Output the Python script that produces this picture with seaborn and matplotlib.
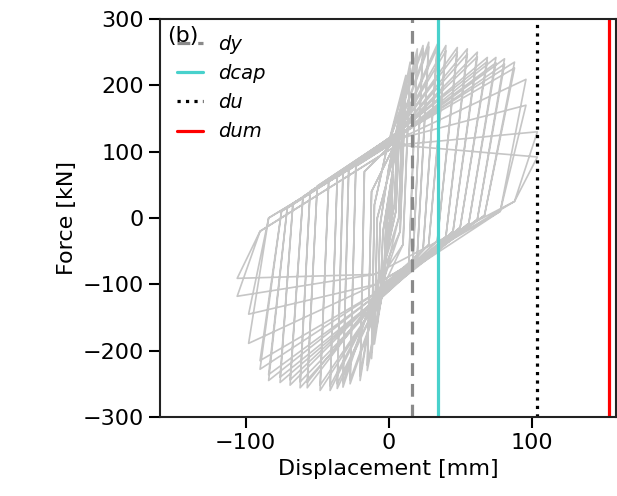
import matplotlib
matplotlib.use("Agg")
import matplotlib.pyplot as plt
import seaborn as sns
import pandas as pd

# characteristic displacements (mm)
limit_names = ["dy", "dcap", "du", "dum"]
limit_values = [16, 34.6, 104, 154]

# hysteresis corner points, one entry per amplitude level (mm, kN)
# each level is run twice: first and second peak forces are listed separately
reload_d = [1, 2, 4, 5, 7, 8, 10, 14, 17, 20, 24, 28, 34, 40, 45, 50, 56, 62, 67, 78, 88]
reload_f = [5, 10, 20, 10, 0, -20, -40, -70, -62, -55, -48, -40, -34, -28, -20, -14, -8, -2, 4, 10, 25]
pos_peak_d = [1.5, 3, 6, 8, 10, 12, 15, 20, 24, 28, 34, 40, 48, 55, 62, 69, 75, 81, 88, 96, 104]
pos_peak_f1 = [40, 70, 130, 160, 190, 215, 235, 255, 260, 265, 262, 260, 257, 255, 250, 242, 242, 240, 235, 209, 130]
pos_peak_f2 = [37, 65, 122, 152, 180, 205, 225, 248, 255, 258, 256, 252, 250, 247, 243, 236, 234, 232, 226, 170, 92]
upper_pinch_d = [0, 1, 2, 0, 3, -2, 3, 4, -1, 5, 6, 2, 5, 7, 3, 6, 8, 4, 7, 8, 6]
upper_pinch_f = [15, 30, 60, 75, 90, 98, 105, 115, 108, 125, 128, 115, 128, 130, 120, 128, 126, 118, 125, 120, 110]
turn_d = [-1, -2, -4, -6, -8, -10, -12, -17, -23, -28, -32, -36, -42, -50, -55, -60, -67, -71, -75, -84, -90]
turn_f = [-5, -10, -20, -10, 0, 20, 40, 70, 78, 72, 68, 62, 55, 48, 40, 32, 22, 15, 10, 0, -20]
neg_peak_d = [-1.5, -3, -6, -8, -10, -12, -15, -20, -27, -32, -36, -41, -48, -57, -62, -69, -76, -84, -90, -98, -106]
neg_peak_f1 = [-40, -70, -130, -160, -190, -212, -230, -245, -250, -255, -257, -260, -260, -256, -256, -252, -248, -245, -228, -189, -118]
neg_peak_f2 = [-37, -65, -122, -150, -180, -202, -222, -238, -244, -248, -250, -253, -252, -248, -247, -244, -240, -236, -215, -145, -91]
lower_pinch_d = [0, -1, -2, -4, -3, -8, -3, -10, -4, -12, -5, -9, -6, -11, -6, -10, -7, -12, -8, -9, -10]
lower_pinch_f = [-15, -30, -60, -75, -90, -98, -100, -112, -108, -125, -115, -122, -120, -126, -122, -124, -120, -122, -112, -100, -85]

disp, force = [0], [0]
for i in range(len(pos_peak_d)):
    for fp, fn in [(pos_peak_f1[i], neg_peak_f1[i]), (pos_peak_f2[i], neg_peak_f2[i])]:
        disp += [reload_d[i], pos_peak_d[i], upper_pinch_d[i], turn_d[i], neg_peak_d[i], lower_pinch_d[i]]
        force += [reload_f[i], fp, upper_pinch_f[i], turn_f[i], fn, lower_pinch_f[i]]
df = pd.DataFrame({"disp": disp, "force": force})

sns.set_style("ticks")
plt.rcParams["font.family"] = ["DejaVu Sans"]
plt.rcParams["text.color"] = "black"
plt.rcParams["axes.labelcolor"] = "black"
plt.rcParams["xtick.color"] = "black"
plt.rcParams["ytick.color"] = "black"

fig, ax = plt.subplots(figsize=(6.17, 4.96), dpi=100)
fig.subplots_adjust(left=0.2593, right=0.9984, bottom=0.1593, top=0.9617)

sns.lineplot(data=df, x="disp", y="force", sort=False, estimator=None,
             color="#c6c6c6", lw=1.2, ax=ax)

styles = [("#8a8a8a", (0, (4, 2.5))), ("#48d1cc", "-"), ("black", ":"), ("red", "-")]
for name, val, (c, ls) in zip(limit_names, limit_values, styles):
    ax.axvline(val, color=c, ls=ls, lw=2.3, label=name)

ax.set_xlim(-160, 159)
ax.set_ylim(-300, 300)
ax.set_xticks([-100, 0, 100])
ax.set_yticks([-300, -200, -100, 0, 100, 200, 300])
ax.set_xlabel("Displacement [mm]", fontsize=16)
ax.set_ylabel("Force [kN]", fontsize=16)
ax.tick_params(labelsize=16, length=8, width=1.5)
for s in ax.spines.values():
    s.set_linewidth(1.5)
    s.set_color("#222222")

leg = ax.legend(loc="upper left", frameon=False, prop={"style": "italic", "size": 14},
                handlelength=1.3, handletextpad=0.8, labelspacing=0.53,
                bbox_to_anchor=(0.0, 1.005))
ax.text(0.015, 0.958, "(b)", transform=ax.transAxes, fontsize=16, va="center",
        zorder=10)

fig.savefig("out.png", dpi=100)
